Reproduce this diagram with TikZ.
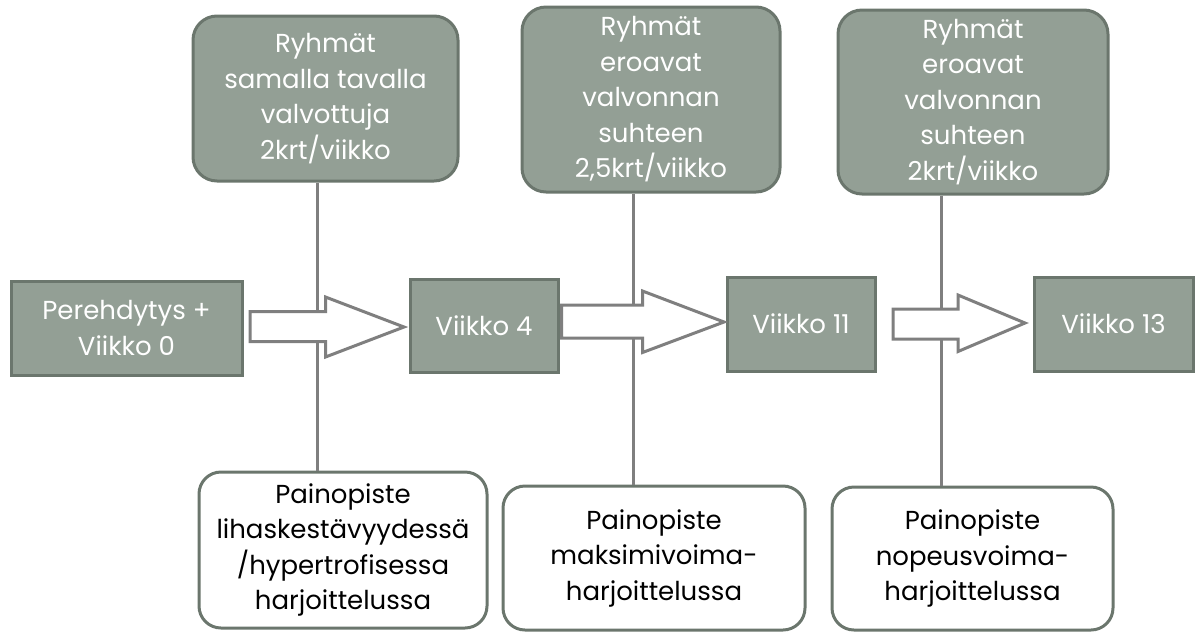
\documentclass[tikz,border=0pt]{standalone}
\usepackage{fontspec}
\setmainfont{Poppins}
\definecolor{boxfill}{HTML}{939F95}
\definecolor{boxline}{HTML}{6B766D}
\definecolor{conn}{HTML}{7F7F7F}
\tikzset{
  txt/.style={font=\fontsize{26}{35.5}\selectfont, align=center, inner sep=0pt},
  topbox/.style={txt, draw=boxline, fill=boxfill, text=white, line width=3pt, rounded corners=24pt},
  midbox/.style={txt, draw=boxline, fill=boxfill, text=white, line width=3pt},
  botbox/.style={txt, draw=boxline, fill=white, text=black, line width=3pt, rounded corners=22pt},
  conline/.style={draw=conn, line width=3pt},
  blockarrow/.style={draw=conn, fill=white, line width=3pt, line join=miter},
}
\begin{document}
\begin{tikzpicture}[x=1pt,y=-1pt]
\useasboundingbox (0,0) rectangle (1196,633);
% top boxes
\node[topbox, minimum width=265pt, minimum height=165pt] (t1) at (325.5,98.5) {Ryhmät\\samalla tavalla\\valvottuja\\2krt/viikko};
\node[topbox, minimum width=258pt, minimum height=185pt] (t2) at (651,99.5) {Ryhmät\\eroavat\\valvonnan\\suhteen\\2,5krt/viikko};
\node[topbox, minimum width=270pt, minimum height=184pt] (t3) at (973,102) {Ryhmät\\eroavat\\valvonnan\\suhteen\\2krt/viikko};
% bottom boxes
\node[botbox, minimum width=288pt, minimum height=156pt] (b1) at (343,550) {Painopiste\\lihaskestävyydessä\\/hypertrofisessa\\harjoittelussa};
\node[botbox, minimum width=302pt, minimum height=144pt] (b2) at (654,558) {Painopiste\\maksimivoima-\\harjoittelussa};
\node[botbox, minimum width=281pt, minimum height=143pt] (b3) at (972.5,558.5) {Painopiste\\nopeusvoima-\\harjoittelussa};
% vertical connector positions
\coordinate (l1) at (317,0);
\coordinate (l2) at (633,0);
\coordinate (l3) at (941,0);
\draw[conline] (t1.south -| l1) -- (b1.north -| l1);
\draw[conline] (t2.south -| l2) -- (b2.north -| l2);
\draw[conline] (t3.south -| l3) -- (b3.north -| l3);
% middle boxes
\node[midbox, minimum width=231pt, minimum height=94pt] (p0) at (126.5,328) {Perehdytys +\\Viikko 0};
\node[midbox, minimum width=148pt, minimum height=93pt] (v4) at (484,325.5) {Viikko 4};
\node[midbox, minimum width=148pt, minimum height=94pt] (v11) at (801,324) {Viikko 11};
\node[midbox, minimum width=159pt, minimum height=94pt] (v13) at (1113.5,324) {Viikko 13};
% block arrows
\draw[blockarrow] (250,311.5) -- (325.5,311.5) -- (325.5,297) -- (404,327) -- (325.5,357) -- (325.5,341.5) -- (250,341.5) -- cycle;
\draw[blockarrow] (561.5,305) -- (642.5,305) -- (642.5,291) -- (724,322) -- (642.5,352.5) -- (642.5,338) -- (561.5,338) -- cycle;
\draw[blockarrow] (893,309) -- (958,309) -- (958,295) -- (1025,323) -- (958,351.5) -- (958,339) -- (893,339) -- cycle;
\end{tikzpicture}
\end{document}
